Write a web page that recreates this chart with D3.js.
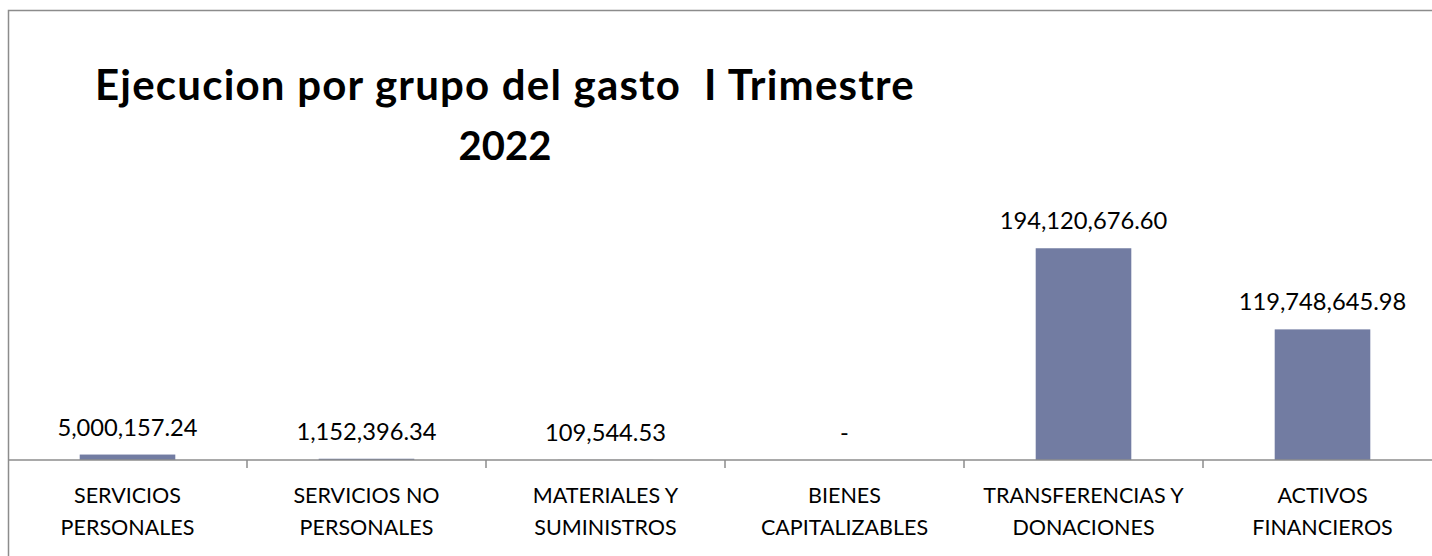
<!DOCTYPE html>
<html>
<head>
<meta charset="utf-8">
<script src="https://cdn.jsdelivr.net/npm/d3@7"></script>
<style>
html,body{margin:0;padding:0;background:#fff;}
svg{display:block;}
</style>
</head>
<body>
<script>
const categories = [
  ["SERVICIOS", "PERSONALES"],
  ["SERVICIOS NO", "PERSONALES"],
  ["MATERIALES Y", "SUMINISTROS"],
  ["BIENES", "CAPITALIZABLES"],
  ["TRANSFERENCIAS Y", "DONACIONES"],
  ["ACTIVOS", "FINANCIEROS"]
];
const values = [5000157.24, 1152396.34, 109544.53, 0, 194120676.60, 119748645.98];
const valueLabels = ["5,000,157.24", "1,152,396.34", "109,544.53", "-", "194,120,676.60", "119,748,645.98"];
const titleLines = ["Ejecucion por grupo del gasto  I Trimestre", "2022"];
const yMax = 250000000;

const W = 1432, H = 556;
const frameL = 8, frameT = 10;
const axisY = 460, plotTop = 187.3;
const catW = 239;

const svg = d3.select("body").append("svg").attr("width", W).attr("height", H);

// frame
svg.append("rect").attr("x", frameL + 0.5).attr("y", frameT + 0.5)
  .attr("width", W + 20).attr("height", H + 20)
  .attr("fill", "none").attr("stroke", "#8c8c8c").attr("stroke-width", 1.5);

const x = d3.scaleBand().domain(d3.range(categories.length))
  .range([frameL, frameL + catW * categories.length]).paddingInner(0.6).paddingOuter(0.3);
const xOuter = d3.scaleBand().domain(d3.range(categories.length))
  .range([frameL, frameL + catW * categories.length]);
const y = d3.scaleLinear().domain([0, yMax]).range([axisY, plotTop]);

// bars
svg.append("g").selectAll("rect").data(values).join("rect")
  .attr("x", (d, i) => x(i))
  .attr("width", x.bandwidth())
  .attr("y", d => y(d))
  .attr("height", d => axisY - y(d))
  .attr("fill", "#727ca2");

// axis line
svg.append("line").attr("x1", frameL).attr("x2", W).attr("y1", axisY).attr("y2", axisY)
  .attr("stroke", "#8c8c8c").attr("stroke-width", 1.5);

// ticks between categories
svg.append("g").selectAll("line").data(d3.range(1, categories.length)).join("line")
  .attr("x1", i => xOuter(i)).attr("x2", i => xOuter(i))
  .attr("y1", axisY).attr("y2", axisY + 8)
  .attr("stroke", "#8c8c8c").attr("stroke-width", 1.5);

// value labels
svg.append("g").selectAll("text").data(values).join("text")
  .attr("x", (d, i) => xOuter(i) + xOuter.bandwidth() / 2)
  .attr("y", d => y(d) - 19)
  .attr("text-anchor", "middle")
  .attr("font-family", "Lato, sans-serif")
  .attr("font-size", 23.7)
  .attr("fill", "#000")
  .text((d, i) => valueLabels[i]);

// category labels
const cl = svg.append("g").selectAll("text").data(categories).join("text")
  .attr("text-anchor", "middle")
  .attr("font-family", "Lato, sans-serif")
  .attr("font-size", 21.5)
  .attr("fill", "#000");
cl.selectAll("tspan").data((d, i) => d.map(t => ({t, i}))).join("tspan")
  .attr("x", d => xOuter(d.i) + xOuter.bandwidth() / 2)
  .attr("y", (d, j) => 503 + j * 32)
  .text(d => d.t);

// title
svg.append("g").selectAll("text").data(titleLines).join("text")
  .attr("x", 505)
  .attr("y", (d, i) => 100 + i * 60)
  .attr("text-anchor", "middle")
  .attr("font-family", "Lato, sans-serif")
  .attr("font-weight", "bold")
  .attr("font-size", (d, i) => i === 0 ? 42 : 40)
  .attr("letter-spacing", (d, i) => i === 0 ? 1.2 : 0)
  .style("white-space", "pre")
  .attr("fill", "#000")
  .text(d => d);
</script>
</body>
</html>
